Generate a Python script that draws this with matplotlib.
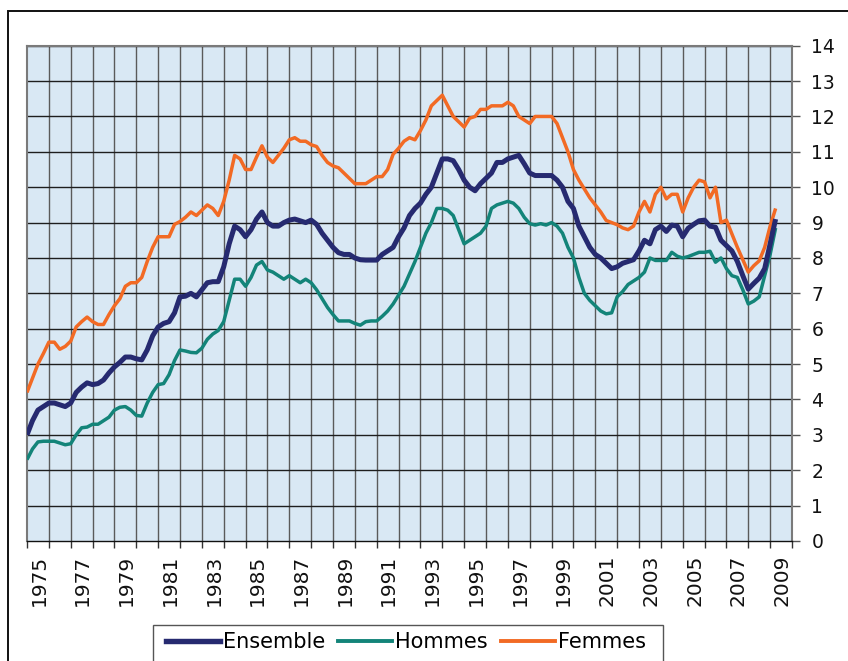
import numpy as np
import matplotlib
matplotlib.use("Agg")
import matplotlib.pyplot as plt
from matplotlib.patches import Rectangle
from matplotlib.lines import Line2D

# ---- data (quarterly, starting 1975 Q1) ----
start_year = 1975
ensemble = [3.0, 3.4, 3.7, 3.8, 3.9, 3.9, 3.85, 3.8, 3.9, 4.2, 4.35, 4.47,
            4.42, 4.45, 4.55, 4.75, 4.92, 5.05, 5.2, 5.2, 5.15, 5.12, 5.4, 5.8,
            6.05, 6.15, 6.2, 6.45, 6.9, 6.92, 7.0, 6.9, 7.1, 7.3, 7.33, 7.33,
            7.75, 8.4, 8.9, 8.8, 8.6, 8.8, 9.1, 9.3, 9.0, 8.9, 8.9, 9.0,
            9.07, 9.1, 9.05, 9.0, 9.07, 8.95, 8.7, 8.5, 8.3, 8.15, 8.1, 8.1,
            8.0, 7.95, 7.94, 7.94, 7.94, 8.1, 8.2, 8.3, 8.6, 8.85, 9.2, 9.4,
            9.55, 9.8, 10.0, 10.4, 10.8, 10.8, 10.75, 10.5, 10.2, 10.0, 9.9, 10.1,
            10.25, 10.4, 10.7, 10.7, 10.8, 10.85, 10.9, 10.66, 10.4, 10.33, 10.33, 10.33,
            10.33, 10.2, 10.0, 9.6, 9.4, 8.9, 8.6, 8.3, 8.1, 8.0, 7.85, 7.7,
            7.75, 7.85, 7.9, 7.95, 8.2, 8.5, 8.4, 8.8, 8.9, 8.75, 8.93, 8.9,
            8.6, 8.84, 8.95, 9.05, 9.07, 8.9, 8.87, 8.5, 8.35, 8.2, 7.9, 7.5,
            7.12, 7.28, 7.43, 7.7, 8.4, 9.1]
hommes = [2.3, 2.6, 2.8, 2.82, 2.82, 2.82, 2.77, 2.72, 2.75, 3.0, 3.2, 3.22,
          3.3, 3.3, 3.4, 3.5, 3.7, 3.78, 3.8, 3.7, 3.55, 3.53, 3.9, 4.2,
          4.42, 4.45, 4.7, 5.1, 5.4, 5.37, 5.33, 5.32, 5.45, 5.7, 5.85, 5.95,
          6.2, 6.8, 7.4, 7.4, 7.2, 7.45, 7.8, 7.9, 7.66, 7.6, 7.5, 7.4,
          7.5, 7.4, 7.3, 7.4, 7.3, 7.1, 6.85, 6.6, 6.4, 6.22, 6.22, 6.22,
          6.15, 6.1, 6.2, 6.22, 6.22, 6.35, 6.5, 6.7, 6.95, 7.2, 7.55, 7.9,
          8.3, 8.7, 9.0, 9.4, 9.4, 9.35, 9.2, 8.8, 8.4, 8.5, 8.6, 8.7,
          8.9, 9.4, 9.5, 9.55, 9.6, 9.55, 9.4, 9.15, 8.97, 8.93, 8.97, 8.93,
          9.0, 8.9, 8.7, 8.3, 8.0, 7.45, 7.0, 6.8, 6.65, 6.5, 6.42, 6.45,
          6.9, 7.05, 7.25, 7.35, 7.45, 7.6, 8.0, 7.93, 7.93, 7.93, 8.16, 8.05,
          8.0, 8.04, 8.1, 8.16, 8.16, 8.19, 7.88, 8.0, 7.7, 7.5, 7.45, 7.1,
          6.7, 6.78, 6.9, 7.5, 8.1, 8.85]
femmes = [4.2, 4.6, 5.0, 5.3, 5.62, 5.62, 5.42, 5.5, 5.65, 6.05, 6.2, 6.33,
          6.2, 6.12, 6.12, 6.4, 6.65, 6.85, 7.2, 7.3, 7.3, 7.45, 7.9, 8.3,
          8.6, 8.6, 8.6, 8.95, 9.03, 9.15, 9.3, 9.2, 9.35, 9.5, 9.4, 9.2,
          9.6, 10.2, 10.9, 10.8, 10.5, 10.5, 10.85, 11.17, 10.85, 10.7, 10.9, 11.1,
          11.34, 11.4, 11.3, 11.3, 11.2, 11.15, 10.9, 10.7, 10.6, 10.55, 10.4, 10.25,
          10.1, 10.1, 10.1, 10.2, 10.3, 10.3, 10.5, 10.93, 11.1, 11.3, 11.4, 11.34,
          11.6, 11.9, 12.3, 12.45, 12.6, 12.3, 12.0, 11.85, 11.7, 11.95, 12.0, 12.2,
          12.2, 12.3, 12.3, 12.3, 12.4, 12.3, 12.0, 11.9, 11.8, 12.0, 12.0, 12.0,
          12.0, 11.8, 11.4, 11.0, 10.5, 10.2, 9.95, 9.7, 9.5, 9.3, 9.06, 9.0,
          8.94, 8.85, 8.8, 8.9, 9.3, 9.6, 9.3, 9.8, 10.0, 9.67, 9.8, 9.8,
          9.3, 9.7, 10.0, 10.2, 10.15, 9.7, 10.0, 9.0, 9.07, 8.68, 8.3, 7.95,
          7.6, 7.78, 7.92, 8.3, 8.9, 9.4]
series_names = ["Ensemble", "Hommes", "Femmes"]
label_years = list(range(1975, 2010, 2))
y_ticks = list(range(0, 15))

# ---- figure ----
W, H = 848, 661
fig = plt.figure(figsize=(W / 100, H / 100), dpi=100)
fig.patch.set_facecolor("white")

# outer frame (extends beyond right/bottom edges)
top_frame = 1 - 11 / H
fig.patches.append(Rectangle((8 / W, -0.2), 1.2, top_frame + 0.2,
                             transform=fig.transFigure, fill=False,
                             edgecolor="#111111", linewidth=1.4, zorder=0))

ax = fig.add_axes([27 / W, 1 - 541 / H, (792 - 27) / W, (541 - 45.7) / H])
ax.set_facecolor("#d9e8f4")

def qx(vals):
    return start_year + np.arange(len(vals)) / 4.0

cols = {"Ensemble": "#262a70", "Hommes": "#138479", "Femmes": "#f26a24"}
lws = {"Ensemble": 3.6, "Hommes": 2.5, "Femmes": 2.5}
data = {"Ensemble": ensemble, "Hommes": hommes, "Femmes": femmes}
for name in ["Hommes", "Femmes", "Ensemble"]:
    v = data[name]
    ax.plot(qx(v), v, color=cols[name], lw=lws[name], solid_joinstyle="round",
            solid_capstyle="butt", zorder=3)

ax.set_xlim(1975, 2010)
ax.set_ylim(0, 14)

# grid
for yr in range(1976, 2010):
    ax.axvline(yr, color="#5a5a5a", lw=1.0, zorder=1)
for yv in y_ticks[1:]:
    ax.axhline(yv, color="#1e1e1e", lw=1.0, zorder=1)

# spines
for s in ["left", "right", "top"]:
    ax.spines[s].set_color("#7a7a7a")
    ax.spines[s].set_linewidth(1.5)
ax.spines["bottom"].set_color("#111111")
ax.spines["bottom"].set_linewidth(1.0)

# y axis on the right
ax.yaxis.tick_right()
ax.set_yticks(y_ticks)
ax.set_yticklabels([str(v) for v in y_ticks], fontsize=13.5, family="DejaVu Sans")
ax.tick_params(axis="y", which="major", direction="out", length=6, width=1,
               color="#555555", pad=8, labelcolor="#111111")

# x axis: ticks at year boundaries, labels centered in odd years
ax.set_xticks(list(range(1975, 2011)))
ax.set_xticklabels([])
ax.tick_params(axis="x", which="major", direction="out", length=5, width=1,
               color="#333333")
ax.set_xticks([y + 0.55 for y in label_years], minor=True)
ax.set_xticklabels([str(y) for y in label_years], minor=True, rotation=90,
                   fontsize=14.5, family="DejaVu Sans", color="#111111")
ax.tick_params(axis="x", which="minor", length=0, pad=10)

# legend (box drawn separately so it runs off the bottom edge)
fig.patches.append(Rectangle((153 / W, -0.1), (663 - 153) / W, 0.1 + 1 - 625 / H,
                             transform=fig.transFigure, fill=False,
                             edgecolor="#555555", linewidth=1.0, zorder=0))
handles = [Line2D([], [], color=cols[n], lw=lws[n] + 0.3) for n in series_names]
leg = fig.legend(handles, series_names, loc="center", ncol=3,
                 bbox_to_anchor=(406 / W, 1 - 642 / H), frameon=False,
                 prop={"family": "DejaVu Sans", "size": 15},
                 handlelength=2.6, handletextpad=0.15, columnspacing=0.6,
                 borderpad=0.0)

fig.savefig("out.png", dpi=100, facecolor="white")
